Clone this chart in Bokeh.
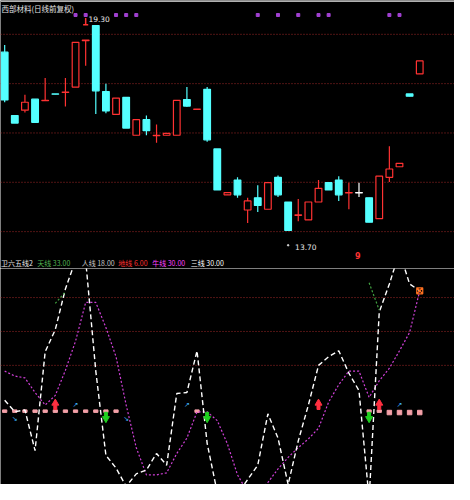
import math
from bokeh.plotting import figure
from bokeh.layouts import column
from bokeh.models import Range1d
from bokeh.core.properties import value
from bokeh.embed import file_html
from bokeh.resources import INLINE

NaN = float("nan")

# ---------------- data ----------------
bars = list(range(42))
opens = [18.40, 16.73, 16.87, 17.16, 17.12, 17.30, 17.34, 17.48, 18.70, 19.10,
         17.36, 16.76, 17.21, 16.21, 16.62, 16.20, 16.21, 16.21, 17.15, 16.89,
         17.42, 15.85, 14.64, 15.03, 14.24, 14.56, 14.26, 15.10, 14.45, 14.10,
         13.98, 14.45, 14.96, 15.03, 14.69, 14.69, 14.56, 14.01, 15.10, 15.38,
         17.30, 17.83]
highs = [18.59, 16.73, 17.28, 17.16, 17.72, 17.30, 17.72, 18.66, 18.72, 19.10,
         17.57, 17.19, 17.21, 16.62, 16.73, 16.49, 16.26, 17.13, 17.48, 16.90,
         17.48, 15.85, 14.70, 15.10, 14.56, 14.89, 14.96, 15.15, 14.45, 14.53,
         14.45, 15.03, 14.96, 15.13, 14.96, 14.96, 14.56, 15.13, 15.92, 15.47,
         17.30, 18.17]
lows = [17.08, 16.53, 16.81, 16.55, 17.12, 17.29, 16.97, 17.48, 18.04, 16.77,
        16.79, 16.76, 16.40, 16.21, 16.21, 16.01, 16.21, 16.21, 16.96, 16.89,
        16.04, 14.77, 14.64, 14.56, 13.90, 14.19, 14.26, 14.58, 13.70, 13.94,
        13.98, 14.45, 14.77, 14.48, 14.26, 14.58, 13.92, 14.01, 14.98, 15.38,
        17.24, 17.83]
closes = [17.14, 16.53, 17.08, 16.55, 17.13, 17.29, 17.35, 18.66, 18.72, 17.38,
          16.85, 17.19, 16.40, 16.62, 16.33, 16.21, 16.26, 17.13, 16.98, 16.90,
          16.09, 14.77, 14.70, 14.64, 14.48, 14.36, 14.96, 14.64, 13.70, 14.11,
          14.45, 14.81, 14.77, 14.64, 14.70, 14.70, 13.92, 15.13, 15.32, 15.47,
          17.24, 18.17]
cursor_bar = 35
price_grid = [18.87, 17.57, 16.27, 14.97, 13.67]
high_mark_bar = 8
high_mark_value = 19.30
top_signal_bars = [7, 8, 11, 12, 13, 25, 27, 29, 31, 32, 38, 39]

white_line = [29.4, 22.6, 23.7, -0.3, 58.0, 71.1, 95.1, 112.0, 112.0, 46.6,
              -3.1, -10.6, -21.4, -14.0, -11.7, -2.0, -8.9, 33.4, 34.0, 58.6,
              4.0, -25.0, -28.0, -26.0, -17.4, -8.9, 21.4, 7.1, -20.3, 5.4,
              26.6, 50.0, 55.1, 58.6, 45.4, 35.1, -28.9, 81.4, 98.0, 116.9,
              98.0, 94.0]
magenta_line = [46.6, 43.7, 42.6, 34.0, 26.6, 32.3, 47.1, 64.3, 87.1, 87.1,
                72.3, 55.1, 26.6, 1.4, -14.6, -14.6, -13.4, -2.0, 7.1, 22.6,
                22.6, 17.4, 3.7, -14.6, -24.9, -24.9, -19.1, -11.1, -4.3, 1.4,
                6.6, 12.9, 28.3, 38.6, 46.6, 46.6, 31.1, 40.9, 48.3, 58.6,
                69.4, 94.0]
green_line = [NaN] * 42
green_line[5], green_line[6] = 86.6, 93.4
green_line[36], green_line[37] = 98.7, 82.6
ind_grid = [90, 70, 50]
pink_level = 23
pink_dash_bars = [0, 1, 2, 3, 4, 5, 6, 7, 8, 9, 10, 11, 19, 36, 37]
pink_box_bars = [38, 39, 40, 41]
buy_bars = [5, 31, 37]
sell_bars = [10, 20, 36]
up_tick_bars = [7, 18, 39]
down_tick_bars = [1, 12]
end_box_bar = 41

title_text = "西部材料(日线前复权)"
ind_name = "卫六五线2"
legend_names = ["天线", "人线", "地线", "牛线", "三线"]
legend_values = [33.00, 18.00, 6.00, 30.00, 30.00]
legend_colors = ["#50b050", "#c8c8c8", "#ff3030", "#ff40ff", "#ffffff"]

# ---------------- styling / helpers ----------------
RED = "#ff3232"
CYAN = "#54ffff"
GRID = "#a02828"
CJK = value("Noto Sans CJK SC")
W, H_TOP, H_BOT = 454, 268, 216


def xr(px):
    return (px - 4.33) / 10.48


def top_y(py):
    return 13.70 + (237.7 - py) * 0.0255


def bot_y(py):
    return 90 - (py - 307) / 1.75


def base_fig(h, yr):
    f = figure(width=W, height=h, x_range=Range1d(xr(0), xr(470)), y_range=yr,
               output_backend="svg", toolbar_location=None,
               x_axis_type=None, y_axis_type=None, min_border=0)
    f.background_fill_color = "black"
    f.border_fill_color = "black"
    f.outline_line_color = None
    f.grid.visible = False
    return f


# ---------------- top: price panel ----------------
p = base_fig(H_TOP, Range1d(top_y(277), top_y(0)))

p.segment(x0=[xr(0)], y0=[top_y(0.8)], x1=[xr(470)], y1=[top_y(0.8)],
          line_color="#b0b0b0", line_width=1.5)
for g in price_grid:
    p.segment(x0=[xr(0)], y0=[g], x1=[xr(470)], y1=[g],
              line_color=GRID, line_width=1, line_dash="1 2")

colors, fills, tops, bots = [], [], [], []
for i in bars:
    o, c = opens[i], closes[i]
    if i == cursor_bar:
        col, fil = "#ffffff", "#ffffff"
    elif c >= o:
        col, fil = RED, "black"
    else:
        col, fil = CYAN, CYAN
    colors.append(col)
    fills.append(fil)
    tops.append(max(o, c))
    bots.append(min(o, c))

p.segment(x0=bars, y0=highs, x1=bars, y1=lows, line_color=colors, line_width=1.2)
p.vbar(x=bars, width=0.66, top=tops, bottom=bots, fill_color=fills,
       line_color=colors, line_width=1.2)

# high marker
hm_low = top_y(25)
p.segment(x0=[high_mark_bar], y0=[high_mark_value], x1=[high_mark_bar], y1=[hm_low],
          line_color=RED, line_width=1.5)
p.segment(x0=[high_mark_bar - 0.25], y0=[hm_low], x1=[high_mark_bar + 0.25], y1=[hm_low],
          line_color=RED, line_width=1.5)
p.text(x=[xr(91)], y=[top_y(19.5)], text=[f"{high_mark_value:.2f}"],
       text_color="#e8e8e8", text_font_size="7.5px", text_baseline="middle",
       text_font=value("DejaVu Sans"))

# low marker
low_bar = lows.index(min(lows))
p.scatter(x=[low_bar], y=[top_y(253)], size=1.5, color="#e0e0e0")
p.text(x=[xr(305)], y=[top_y(255)], text=[f"{min(lows):.2f}"],
       text_color="#e8e8e8", text_font_size="7.5px", text_baseline="middle",
       text_font=value("DejaVu Sans"))

# purple signal marks along the top
p.scatter(x=top_signal_bars, y=[top_y(15)] * len(top_signal_bars),
          marker="square", size=3, color="#a040d0")

p.text(x=[xr(370)], y=[top_y(264)], text=["9"], text_color=RED,
       text_font_size="8px", text_baseline="middle", text_align="center",
       text_font=value("DejaVu Sans"), text_font_style="bold")

# title
p.text(x=[xr(1)], y=[top_y(8)], text=[title_text], text_color="#e0e0e0",
       text_font_size="7.5px", text_baseline="middle", text_font=CJK)

# indicator legend (in the strip above the indicator plot)
leg_x = [38, 84, 122, 157, 197]
p.text(x=[xr(0.5)], y=[top_y(271)], text=[ind_name], text_color="#e8e8e8",
       text_font_size="7px", text_baseline="middle", text_font=CJK)
p.text(x=[xr(v) for v in leg_x], y=[top_y(271)] * 5,
       text=[f"{n} {v:.2f}" for n, v in zip(legend_names, legend_values)],
       text_color=legend_colors, text_font_size="7px",
       text_baseline="middle", text_font=CJK)

# ---------------- bottom: indicator panel ----------------
q = base_fig(H_BOT, Range1d(bot_y(500), bot_y(277)))
q.x_range = p.x_range

for g in ind_grid:
    q.segment(x0=[xr(0)], y0=[g], x1=[xr(470)], y1=[g],
              line_color=GRID, line_width=1, line_dash="1 2")

q.rect(x=pink_dash_bars, y=[pink_level] * len(pink_dash_bars), width=0.42,
       height=2.5, height_units="screen", color="#f4a0a8")
q.scatter(x=pink_box_bars, y=[bot_y(425.7)] * len(pink_box_bars), marker="square",
          size=4.5, color="#f4a0a8")

q.line(bars, magenta_line, line_color="#d040d8", line_width=1.2, line_dash="2 2")
q.line(bars, white_line, line_color="#ffffff", line_width=1.4, line_dash="5 3")
q.line(bars, green_line, line_color="#40a040", line_width=1.2, line_dash="2 2")

# buy (red up) / sell (green down) arrows
q.scatter(x=buy_bars, y=[bot_y(416)] * 3, marker="triangle", size=7, color="#ff3040")
q.rect(x=buy_bars, y=[bot_y(420.5)] * 3, width=3, height=4, width_units="screen",
       height_units="screen", color="#ff3040")
q.scatter(x=sell_bars, y=[bot_y(432)] * 3, marker="inverted_triangle", size=7,
          color="#20d020")
q.rect(x=sell_bars, y=[bot_y(427.5)] * 3, width=3, height=4, width_units="screen",
       height_units="screen", color="#20d020")

# small cyan ticks
q.text(x=up_tick_bars, y=[bot_y(418)] * len(up_tick_bars), text=["↗"] * len(up_tick_bars),
       text_color="#40b8ff", text_font_size="7px", text_baseline="middle",
       text_align="center", text_font=value("DejaVu Sans"))
q.text(x=down_tick_bars, y=[bot_y(432)] * len(down_tick_bars),
       text=["↘"] * len(down_tick_bars), text_color="#40b8ff", text_font_size="7px",
       text_baseline="middle", text_align="center", text_font=value("DejaVu Sans"))

# end box
q.scatter(x=[end_box_bar], y=[magenta_line[end_box_bar]], marker="square_x", size=6,
          line_color="#ff7020", fill_color=None, line_width=1.2)

layout = column(p, q, spacing=0)
open("out.html", "w").write(file_html(layout, INLINE))
